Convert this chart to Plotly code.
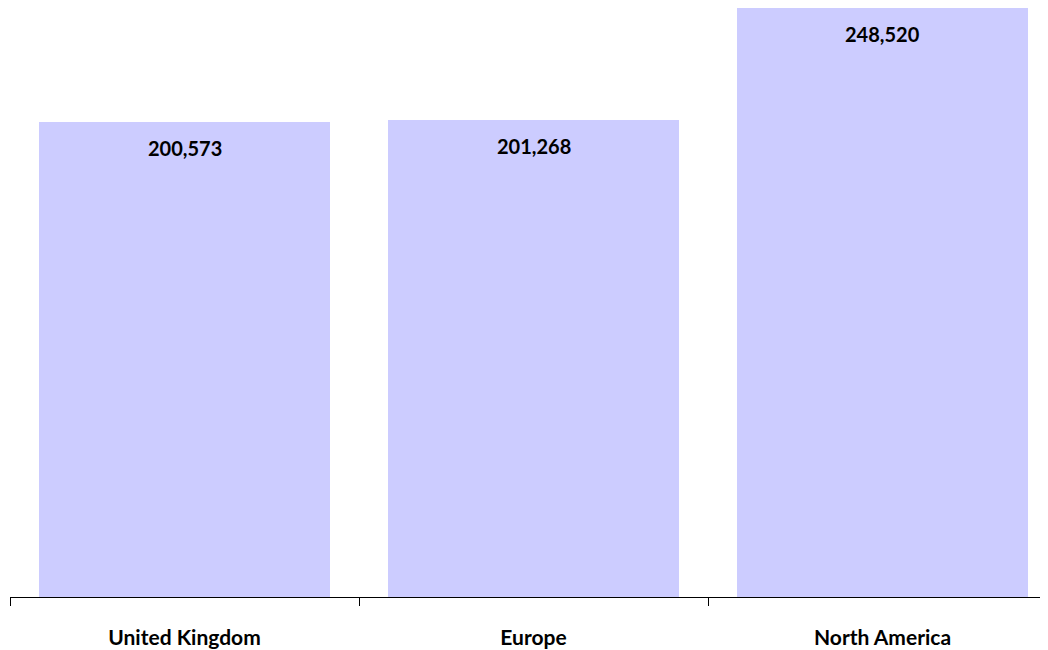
import plotly.graph_objects as go

categories = ["United Kingdom", "Europe", "North America"]
values = [200573, 201268, 248520]
labels = [f"{v:,}" for v in values]

fig = go.Figure()
fig.add_trace(go.Bar(
    x=categories, y=values,
    marker=dict(color="#CCCCFF", line=dict(width=0)),
    width=0.834,
    hoverinfo="skip",
))

for c, v, t in zip(categories, values, labels):
    fig.add_annotation(x=c, y=v, text=t, showarrow=False, yanchor="middle",
                       yshift=-26, font=dict(family="Lato", size=20, color="#000000", weight="bold"))

fig.update_layout(
    width=1048, height=642,
    margin=dict(l=2, r=0, t=0, b=53),
    paper_bgcolor="white", plot_bgcolor="white",
    showlegend=False,
    bargap=0,
    xaxis=dict(
        type="category",
        range=[-0.5, 2.497],
        showline=True, linecolor="#000000", linewidth=1,
        ticks="outside", tickson="boundaries", ticklen=8, tickcolor="#000000", tickwidth=1,
        tickfont=dict(family="Lato", size=21, color="#000000", weight="bold"),
        ticklabelstandoff=22,
        showgrid=False, zeroline=False, automargin=False,
    ),
    yaxis=dict(
        range=[0, 248600], visible=False, showgrid=False, zeroline=False,
    ),
)

fig.write_html("out.html")
